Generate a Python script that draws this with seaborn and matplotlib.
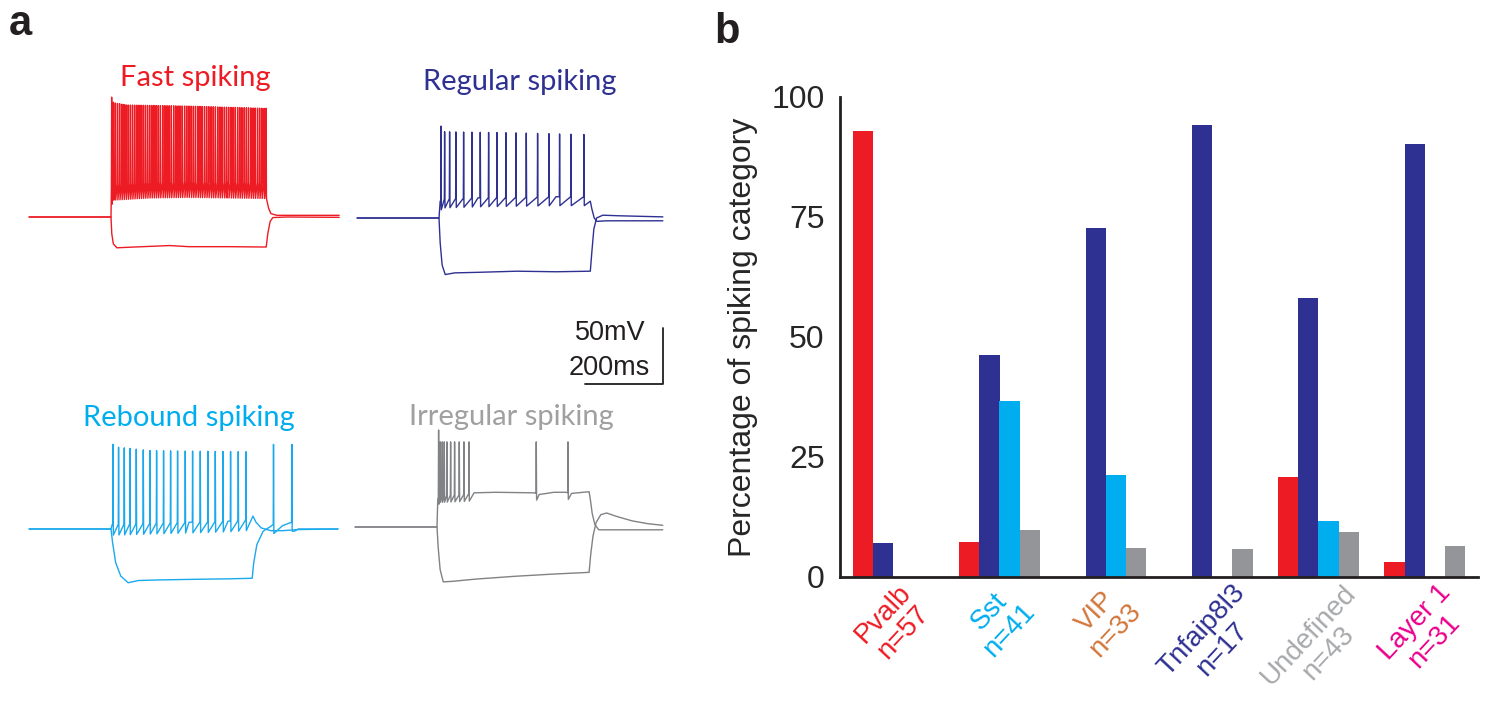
import numpy as np
import pandas as pd
import matplotlib
matplotlib.use("Agg")
import matplotlib.pyplot as plt
import seaborn as sns

# ---------------- panel b: percentage of spiking category ----------------
cell_types = ["Pvalb\nn=57", "Sst\nn=41", "VIP\nn=33", "Tnfaip8l3\nn=17", "Undefined\nn=43", "Layer 1\nn=31"]
type_colors = ["#ED1C24", "#00AEEF", "#D2773C", "#2E3192", "#A7A9AC", "#EC008C"]
categories = ["Fast spiking", "Regular spiking", "Rebound spiking", "Irregular spiking"]
cat_colors = ["#ED1C24", "#2E3192", "#00AEEF", "#939598"]
fast_pct = [93.0, 7.3, 0.0, 0.0, 20.9, 3.2]
regular_pct = [7.0, 46.3, 72.7, 94.1, 58.1, 90.3]
rebound_pct = [0.0, 36.6, 21.2, 0.0, 11.6, 0.0]
irregular_pct = [0.0, 9.8, 6.1, 5.9, 9.3, 6.5]
y_ticks = [0, 25, 50, 75, 100]

# ---------------- panel a: example traces (ms, mV) ----------------
trace_titles = ["Fast spiking", "Regular spiking", "Rebound spiking", "Irregular spiking"]
title_colors = ["#ED1C24", "#2E3192", "#00AEEF", "#A0A0A0"]
trace_colors = ["#ED1C24", "#2E3192", "#1AA9EC", "#808285"]

# fast spiking
fs_spikes = [1, 5.5, 10.5, 16, 21.5, 27, 32.5, 38, 43.5, 49, 54.5, 60, 65.5, 71, 76.5, 82, 87.5, 93,
             98.5, 104, 109.5, 115, 120.5, 126, 132, 137.5, 143, 148.5, 154, 160, 165.5, 171, 176.5,
             182, 188, 193.5, 199, 205, 210.5, 216, 222, 227.5, 233, 239, 244.5, 250, 256, 261.5, 267,
             273, 278.5, 284, 290, 295.5, 301, 307, 312.5, 318, 324, 329.5, 335, 341, 346.5, 352, 358,
             363.5, 369, 375, 380.5, 386, 392, 397]
fs_peak_t = [1, 6, 40, 200, 397]
fs_peak_v = [37, 32, 30, 29, 27]
fs_dep_t = [-210, 0, 0.8, 3, 100, 200, 300, 397, 400, 404, 410, 425, 585]
fs_dep_v = [-70, -70, -45, -41, -39, -38.5, -39, -39.5, -53, -62, -67, -68.5, -68.5]
fs_hyp_t = [-210, 0, 2, 6, 15, 60, 150, 200, 300, 398, 402, 408, 415, 450, 585]
fs_hyp_v = [-70, -70, -85, -94, -97.5, -96.8, -95.5, -96.5, -96.5, -96.8, -85, -74, -70.5, -70, -70.3]

# regular spiking
rs_spikes = [4.3, 13.7, 26.5, 42.7, 62.4, 83.8, 105.1, 126.5, 147.9, 170.9, 196.6, 223.1, 252.1,
             281.2, 308.5, 337.6, 370.9]
rs_peak_t = [4.3, 13.7, 200, 371]
rs_peak_v = [12, 7, 6, 4.5]
rs_dep_t = [-210, 0, 3, 10, 100, 200, 300, 371, 388, 392, 398, 405, 430, 574]
rs_dep_v = [-70, -70, -55, -53, -52, -51.5, -51, -51, -55, -62, -70, -73, -72.5, -72.5]
rs_hyp_t = [-210, 0, 3, 8, 16, 40, 100, 200, 300, 388, 392, 397, 404, 420, 460, 574]
rs_hyp_v = [-70, -70, -92, -112, -120.5, -119, -118.5, -117.5, -118, -117.5, -100, -80, -70, -67.5, -68, -69]

# rebound spiking
rb_spikes = [4.4, 18.7, 33.3, 47.9, 64.1, 82.1, 99.2, 116.2, 134.1, 152.1, 170.0, 189.7, 208.5,
             228.2, 247.9, 266.7, 286.4, 305.9, 325.6, 345.4]
rb_peak_t = [4.4, 18.7, 100, 345]
rb_peak_v = [5.6, 3, 0, -1]
rb_dep_t = [-210, 0, 3, 100, 200, 300, 345, 364, 372, 385, 410, 440, 480, 582]
rb_dep_v = [-70, -70, -66, -65, -64, -63, -62, -58.5, -64, -69, -71.5, -71.5, -70.5, -70]
rb_reb_spikes = [416, 463]
rb_reb_peak_t = [416, 463]
rb_reb_peak_v = [5.6, 5.6]
rb_hyp_t = [-210, 0, 4, 12, 25, 44, 70, 120, 200, 300, 362, 366, 374, 390, 408, 416, 440, 463, 470, 480, 582]
rb_hyp_v = [-70, -70, -82, -100, -112, -118, -116, -115.5, -115, -114.5, -114, -100, -84, -72, -68, -66,
            -67, -64, -72, -70, -70]

# irregular spiking
ir_spikes = [3.4, 7.7, 12.8, 17.9, 24.8, 34.2, 44.4, 56.4, 68.4, 81.2, 253.8, 335.1]
ir_peak_t = [3.4, 7.7, 335]
ir_peak_v = [16.6, 6, 6]
ir_dep_t = [-210, 0, 2, 5, 80, 95, 150, 250, 262, 300, 330, 345, 390, 393, 398, 405, 415, 579]
ir_dep_v = [-70, -70, -45, -42, -41, -39.5, -39, -39.5, -41, -39, -39, -40, -38.5, -45, -58, -68, -72.5, -72.5]
ir_hyp_t = [-210, 0, 3, 8, 16, 40, 100, 200, 300, 390, 394, 400, 408, 420, 435, 460, 500, 540, 579]
ir_hyp_v = [-70, -70, -88, -108, -119, -118.5, -116.5, -114, -112, -110.5, -95, -78, -66, -59, -57.5,
            -60.5, -64.5, -67, -68.5]

scale_ms, scale_mv = 200, 50

# ---------------- layout (pixels of the 1490x709 picture) ----------------
W, H = 1490, 709
PX_MS, PX_MV = 0.39, 1.12
V_REST = -70

sns.set_style("white")
plt.rcParams["font.family"] = ["Liberation Sans", "DejaVu Sans"]

fig = plt.figure(figsize=(W / 100, H / 100), dpi=100)


def build_sweep(key_t, key_v, spikes=(), peak_t=(0,), peak_v=(0,), ahp=0.0, rec=5.0):
    key_t = np.asarray(key_t, float)
    key_v = np.asarray(key_v, float)
    if len(spikes) == 0:
        return key_t, key_v
    ts = list(key_t[key_t < spikes[0]])
    vs = list(key_v[key_t < spikes[0]])
    for i, s in enumerate(spikes):
        vb = np.interp(s, key_t, key_v)
        pk = np.interp(s, peak_t, peak_v)
        ts += [s, s + 0.7, s + 1.6]
        vs += [vb, pk, vb - ahp]
        nxt = spikes[i + 1] if i + 1 < len(spikes) else np.inf
        m = (key_t > s + rec) & (key_t < nxt)
        ts += list(key_t[m])
        vs += list(key_v[m])
    return np.array(ts), np.array(vs)


def trace_axes(x_on, y_base):
    left, right = x_on - 100, x_on + 250
    top, bottom = y_base - 150, y_base + 80
    ax = fig.add_axes([left / W, 1 - bottom / H, (right - left) / W, (bottom - top) / H])
    ax.set_xlim(-100 / PX_MS, 250 / PX_MS)
    ax.set_ylim(V_REST - 80 / PX_MV, V_REST + 150 / PX_MV)
    ax.axis("off")
    return ax


sweeps = [
    [build_sweep(fs_dep_t, fs_dep_v, fs_spikes, fs_peak_t, fs_peak_v, ahp=14, rec=3),
     build_sweep(fs_hyp_t, fs_hyp_v)],
    [build_sweep(rs_dep_t, rs_dep_v, rs_spikes, rs_peak_t, rs_peak_v, ahp=8, rec=6),
     build_sweep(rs_hyp_t, rs_hyp_v)],
    [build_sweep(rb_dep_t, rb_dep_v, rb_spikes, rb_peak_t, rb_peak_v, ahp=9.5, rec=5),
     build_sweep(rb_hyp_t, rb_hyp_v, rb_reb_spikes, rb_reb_peak_t, rb_reb_peak_v, ahp=8, rec=6)],
    [build_sweep(ir_dep_t, ir_dep_v, ir_spikes, ir_peak_t, ir_peak_v, ahp=6, rec=8),
     build_sweep(ir_hyp_t, ir_hyp_v)],
]
onsets = [(111, 217), (439, 218), (111, 529), (437, 527)]
title_pos = [(195, 86), (520, 90), (189, 426), (511, 425)]

trace_axs = []
for k in range(4):
    ax = trace_axes(*onsets[k])
    for t, v in sweeps[k]:
        sns.lineplot(x=t, y=v, sort=False, estimator=None, color=trace_colors[k], lw=1.0, ax=ax)
    ax.axis("off")
    trace_axs.append(ax)
    fig.text(title_pos[k][0] / W, 1 - title_pos[k][1] / H, trace_titles[k], color=title_colors[k],
             family=["Lato", "DejaVu Sans"], fontsize=21, ha="center", va="baseline")

# scale bar, drawn in the regular spiking axes (corner at pixel 663, 384)
ax_rs = trace_axs[1]
corner_t = (663 - 439) / PX_MS
corner_v = V_REST - (384 - 218) / PX_MV
ax_rs.plot([corner_t - scale_ms, corner_t, corner_t], [corner_v, corner_v, corner_v + scale_mv],
           color="#231F20", lw=1.3, clip_on=False)
fig.text(646 / W, 1 - 333 / H, f"{scale_mv}mV", ha="right", va="center", fontsize=19.5, color="#231F20")
fig.text(650 / W, 1 - 368 / H, f"{scale_ms}ms", ha="right", va="center", fontsize=19.5, color="#231F20")

# ---------------- panel b ----------------
rows = []
for cat, vals in zip(categories, [fast_pct, regular_pct, rebound_pct, irregular_pct]):
    for ct, v in zip(cell_types, vals):
        rows.append({"type": ct, "category": cat, "pct": v})
df = pd.DataFrame(rows)

axb = fig.add_axes([840 / W, 1 - 577 / H, (1478 - 840) / W, (577 - 97) / H])
sns.barplot(data=df, x="type", y="pct", hue="category", order=cell_types, hue_order=categories,
            palette=cat_colors, width=0.76, saturation=1, linewidth=0, legend=False, ax=axb)
axb.set_xlim(-0.5, 5.5)
axb.set_ylim(0, 100)
axb.set_yticks(y_ticks)
axb.set_yticklabels([str(y) for y in y_ticks], fontsize=23)
axb.set_xticks(range(len(cell_types)))
axb.set_xticklabels(cell_types, fontsize=20, rotation=47, ha="center", va="top",
                    multialignment="center", linespacing=1.05)
for lab, c in zip(axb.get_xticklabels(), type_colors):
    lab.set_color(c)
axb.set_xticks(np.arange(0.5, 6, 1), minor=True)
axb.tick_params(axis="x", which="major", length=0, pad=2)
axb.tick_params(axis="x", which="minor", length=7, width=2, direction="out", color="#231F20")
axb.tick_params(axis="y", length=7, width=2, direction="out", color="#231F20", pad=4)
axb.set_xlabel("")
axb.set_ylabel("Percentage of spiking category", fontsize=23, labelpad=10)
sns.despine(ax=axb)
for s in ["left", "bottom"]:
    axb.spines[s].set_linewidth(2)
    axb.spines[s].set_color("#231F20")

fig.text(9 / W, 1 - 35 / H, "a", fontsize=30, fontweight="bold", va="baseline", color="#231F20")
fig.text(714 / W, 1 - 43 / H, "b", fontsize=30, fontweight="bold", va="baseline", color="#231F20")

fig.savefig("out.png", dpi=100)
